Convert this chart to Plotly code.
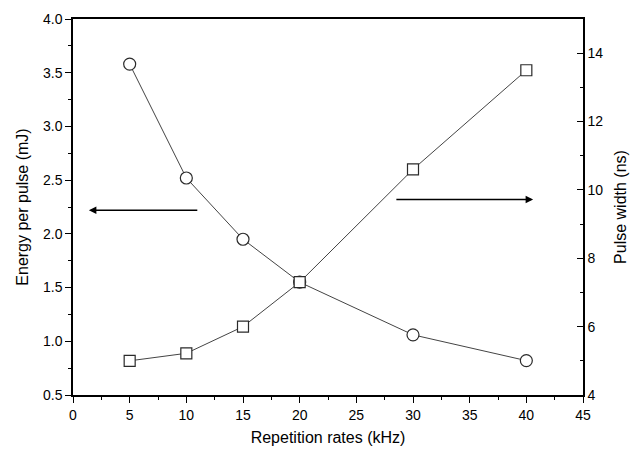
import plotly.graph_objects as go

# Repetition rate (kHz)
rate_khz = [5, 10, 15, 20, 30, 40]
# Energy per pulse (mJ), left axis
energy_mj = [3.58, 2.52, 1.95, 1.55, 1.06, 0.82]
# Pulse width (ns), right axis
pulse_ns = [5.0, 5.22, 6.0, 7.3, 10.6, 13.5]

FONT = "Liberation Sans, Arial, sans-serif"
LINE_C = "#444444"
MARK_C = "#2a2a2a"

fig = go.Figure()

fig.add_trace(go.Scatter(
    x=rate_khz, y=energy_mj, mode="lines+markers",
    line=dict(color=LINE_C, width=1),
    marker=dict(symbol="circle", size=12, color="white",
                line=dict(color=MARK_C, width=1.2)),
    yaxis="y", showlegend=False,
))
fig.add_trace(go.Scatter(
    x=rate_khz, y=pulse_ns, mode="lines+markers",
    line=dict(color=LINE_C, width=1),
    marker=dict(symbol="square", size=11, color="white",
                line=dict(color=MARK_C, width=1.2)),
    yaxis="y2", showlegend=False,
))

axis_common = dict(
    showgrid=False, zeroline=False, showline=True, automargin=False,
    linecolor="black", linewidth=1.5,
    tickcolor="black", tickwidth=1.2,
    tickfont=dict(family=FONT, size=14, color="black"),
)

fig.update_layout(
    width=637, height=454,
    margin=dict(l=73, r=54, t=19, b=59),
    paper_bgcolor="white", plot_bgcolor="white",
    font=dict(family=FONT, color="black"),
    xaxis=dict(
        range=[0, 45], dtick=5, tick0=0,
        ticks="outside", ticklen=6, mirror=True,
        minor=dict(ticks="outside", dtick=2.5, ticklen=3, tickcolor="black"),
        title=dict(text="Repetition rates (kHz)", font=dict(family=FONT, size=16),
                   standoff=10),
        **axis_common,
    ),
    yaxis=dict(
        range=[0.5, 4.0], dtick=0.5, tick0=0.5, tickformat=".1f",
        ticks="outside", ticklen=6,
        minor=dict(ticks="outside", dtick=0.25, ticklen=3, tickcolor="black"),
        title=dict(text="Energy per pulse (mJ)", font=dict(family=FONT, size=16),
                   standoff=10),
        **axis_common,
    ),
    yaxis2=dict(
        range=[4, 15], dtick=2, tick0=4,
        overlaying="y", side="right", anchor="x",
        ticks="inside", ticklen=6,
        minor=dict(ticks="inside", dtick=1, ticklen=3, tickcolor="black"),
        title=dict(text="Pulse width (ns)", font=dict(family=FONT, size=16),
                   standoff=12),
        **axis_common,
    ),
)

# Arrows pointing to the axis each curve belongs to
fig.add_annotation(
    x=1.4, y=2.22, ax=11.1, ay=2.22,
    xref="x", yref="y", axref="x", ayref="y",
    text="", showarrow=True, arrowhead=2, arrowsize=1, arrowwidth=1.5,
    arrowcolor="black", standoff=0,
)
fig.add_annotation(
    x=40.6, y=2.32, ax=28.4, ay=2.32,
    xref="x", yref="y", axref="x", ayref="y",
    text="", showarrow=True, arrowhead=2, arrowsize=1, arrowwidth=1.5,
    arrowcolor="black", standoff=0,
)

fig.write_html("out.html")
